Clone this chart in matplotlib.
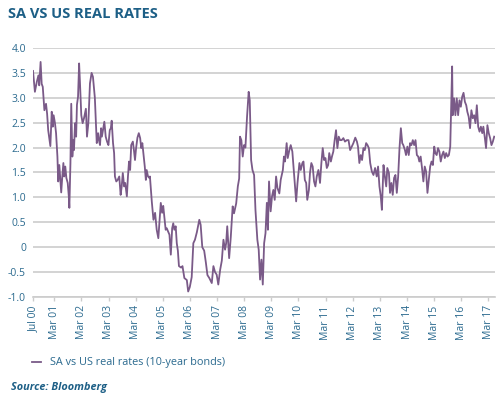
import matplotlib
matplotlib.use("Agg")
import matplotlib.pyplot as plt

# ── Data ────────────────────────────────────────────────────────────────────
# time as decimal years, real-rate spread in %
years = [
    2000.38, 2000.45, 2000.52, 2000.58, 2000.61, 2000.66, 2000.70, 2000.74, 2000.80, 2000.86,
    2000.90, 2000.94, 2001.02, 2001.07, 2001.11, 2001.14, 2001.19, 2001.23, 2001.28, 2001.31,
    2001.35, 2001.39, 2001.42, 2001.46, 2001.50, 2001.53, 2001.57, 2001.61, 2001.66, 2001.70,
    2001.72, 2001.76, 2001.79, 2001.83, 2001.87, 2001.89, 2001.93, 2001.97, 2002.00, 2002.04,
    2002.08, 2002.11, 2002.16, 2002.21, 2002.26, 2002.33, 2002.37, 2002.42, 2002.48, 2002.54,
    2002.59, 2002.66, 2002.69, 2002.73, 2002.78, 2002.81, 2002.85, 2002.89, 2002.92, 2002.97,
    2003.01, 2003.06, 2003.11, 2003.16, 2003.21, 2003.25, 2003.28, 2003.33, 2003.37, 2003.40,
    2003.45, 2003.50, 2003.56, 2003.61, 2003.65, 2003.69, 2003.74, 2003.78, 2003.84, 2003.88,
    2003.92, 2003.96, 2004.00, 2004.06, 2004.10, 2004.14, 2004.18, 2004.23, 2004.28, 2004.33,
    2004.37, 2004.41, 2004.45, 2004.50, 2004.54, 2004.57, 2004.62, 2004.67, 2004.69, 2004.76,
    2004.82, 2004.88, 2004.94, 2005.00, 2005.09, 2005.14, 2005.18, 2005.27, 2005.31, 2005.41,
    2005.46, 2005.51, 2005.55, 2005.59, 2005.64, 2005.68, 2005.72, 2005.76, 2005.84, 2005.89,
    2005.96, 2006.05, 2006.10, 2006.16, 2006.23, 2006.29, 2006.35, 2006.42, 2006.51, 2006.56,
    2006.62, 2006.69, 2006.75, 2006.81, 2006.88, 2006.97, 2007.03, 2007.09, 2007.15, 2007.21,
    2007.28, 2007.34, 2007.40, 2007.46, 2007.50, 2007.54, 2007.61, 2007.67, 2007.74, 2007.79,
    2007.87, 2007.93, 2007.98, 2008.01, 2008.06, 2008.11, 2008.16, 2008.21, 2008.27, 2008.33,
    2008.37, 2008.42, 2008.47, 2008.53, 2008.58, 2008.65, 2008.70, 2008.75, 2008.80, 2008.85,
    2008.90, 2008.95, 2009.00, 2009.04, 2009.08, 2009.14, 2009.19, 2009.24, 2009.29, 2009.34,
    2009.39, 2009.46, 2009.51, 2009.59, 2009.63, 2009.67, 2009.73, 2009.77, 2009.83, 2009.88,
    2009.94, 2010.00, 2010.08, 2010.13, 2010.20, 2010.25, 2010.31, 2010.35, 2010.40, 2010.45,
    2010.49, 2010.55, 2010.59, 2010.64, 2010.69, 2010.74, 2010.79, 2010.84, 2010.90, 2010.96,
    2011.01, 2011.06, 2011.11, 2011.16, 2011.21, 2011.26, 2011.30, 2011.36, 2011.40, 2011.45,
    2011.50, 2011.55, 2011.60, 2011.65, 2011.70, 2011.76, 2011.82, 2011.88, 2011.95, 2012.01,
    2012.07, 2012.13, 2012.19, 2012.26, 2012.32, 2012.36, 2012.41, 2012.46, 2012.51, 2012.56,
    2012.61, 2012.66, 2012.71, 2012.76, 2012.81, 2012.87, 2012.93, 2012.99, 2013.05, 2013.10,
    2013.15, 2013.20, 2013.24, 2013.30, 2013.35, 2013.40, 2013.44, 2013.50, 2013.54, 2013.59,
    2013.64, 2013.69, 2013.74, 2013.79, 2013.84, 2013.89, 2013.94, 2013.99, 2014.03, 2014.09,
    2014.13, 2014.18, 2014.23, 2014.28, 2014.33, 2014.38, 2014.43, 2014.48, 2014.53, 2014.58,
    2014.62, 2014.67, 2014.72, 2014.77, 2014.82, 2014.87, 2014.92, 2014.97, 2015.02, 2015.07,
    2015.12, 2015.17, 2015.21, 2015.26, 2015.31, 2015.36, 2015.41, 2015.46, 2015.51, 2015.56,
    2015.61, 2015.66, 2015.71, 2015.76, 2015.79, 2015.83, 2015.85, 2015.90, 2015.95, 2016.00,
    2016.05, 2016.10, 2016.15, 2016.20, 2016.25, 2016.30, 2016.35, 2016.39, 2016.44, 2016.49,
    2016.54, 2016.59, 2016.64, 2016.69, 2016.74, 2016.79, 2016.84, 2016.89, 2016.94, 2016.98,
    2017.03, 2017.08, 2017.13, 2017.18, 2017.23, 2017.28, 2017.33, 2017.38,
]
real_rate_gap = [
    3.54, 3.12, 3.32, 3.45, 3.25, 3.72, 3.28, 3.22, 2.75, 2.88,
    2.68, 2.35, 2.03, 2.72, 2.42, 2.65, 2.49, 2.29, 1.82, 1.32,
    1.65, 1.35, 1.10, 1.42, 1.69, 1.42, 1.62, 1.39, 1.29, 1.02,
    0.79, 1.69, 2.88, 1.82, 2.15, 1.95, 2.49, 2.22, 2.86, 3.02,
    3.69, 3.32, 2.65, 2.49, 2.59, 2.78, 2.22, 2.49, 3.29, 3.50,
    3.42, 3.00, 2.62, 2.09, 2.29, 2.15, 2.05, 2.39, 2.22, 2.39,
    2.52, 2.22, 2.12, 2.05, 2.35, 2.39, 2.54, 2.09, 1.89, 1.42,
    1.32, 1.35, 1.42, 1.05, 1.22, 1.49, 1.22, 1.29, 1.02, 1.42,
    1.72, 1.55, 2.05, 2.12, 1.95, 1.75, 1.99, 2.20, 2.29, 2.19,
    1.99, 2.09, 1.89, 1.62, 1.35, 1.55, 1.42, 1.39, 1.42, 0.91,
    0.55, 0.69, 0.35, 0.18, 0.89, 0.69, 0.83, 0.35, 0.38, 0.25,
    -0.15, 0.38, 0.48, 0.35, 0.42, 0.08, -0.07, -0.38, -0.41, -0.38,
    -0.62, -0.66, -0.89, -0.80, -0.60, 0.08, 0.15, 0.30, 0.55, 0.45,
    0.00, -0.07, -0.30, -0.56, -0.62, -0.72, -0.38, -0.50, -0.55, -0.75,
    -0.45, -0.27, 0.15, -0.05, 0.08, 0.42, -0.22, 0.20, 0.82, 0.68,
    0.88, 1.22, 1.38, 2.22, 2.15, 1.82, 2.05, 2.00, 2.62, 3.12,
    2.95, 1.75, 1.55, 1.45, 0.75, 0.15, -0.05, -0.65, -0.25, -0.75,
    0.08, 0.28, 0.89, 0.35, 1.32, 0.72, 1.02, 1.15, 0.95, 1.42,
    1.19, 1.08, 1.35, 1.55, 1.82, 1.72, 2.09, 1.79, 1.95, 2.05,
    1.92, 1.49, 0.92, 1.29, 1.69, 1.55, 1.69, 1.72, 1.35, 1.29,
    0.95, 1.15, 1.49, 1.69, 1.62, 1.32, 1.22, 1.42, 1.55, 1.29,
    1.69, 1.99, 1.75, 1.79, 1.59, 1.65, 1.89, 1.72, 1.82, 1.92,
    2.15, 2.35, 1.99, 2.22, 2.15, 2.15, 2.19, 2.12, 2.15, 2.15,
    1.95, 2.02, 2.09, 2.20, 2.12, 2.02, 1.69, 1.85, 1.75, 1.99,
    1.95, 2.09, 2.05, 1.99, 1.69, 1.52, 1.45, 1.59, 1.42, 1.62,
    1.22, 1.02, 0.75, 1.65, 1.42, 1.22, 1.59, 1.49, 1.09, 1.29,
    1.05, 1.39, 1.45, 1.09, 1.42, 1.99, 2.39, 2.09, 2.05, 1.95,
    1.85, 2.02, 1.85, 2.09, 2.05, 2.15, 2.05, 2.15, 1.85, 1.82,
    1.72, 1.82, 1.59, 1.32, 1.62, 1.52, 1.09, 1.35, 1.62, 1.72,
    1.65, 2.02, 1.89, 1.85, 1.99, 1.92, 1.72, 1.85, 1.92, 1.79,
    1.89, 1.82, 1.85, 2.02, 2.69, 3.63, 2.65, 2.99, 2.65, 2.99,
    2.65, 2.95, 2.82, 3.02, 3.10, 2.92, 2.85, 2.72, 2.62, 2.39,
    2.75, 2.59, 2.65, 2.49, 2.85, 2.42, 2.32, 2.42, 2.29, 2.42,
    2.22, 1.99, 2.45, 2.29, 2.19, 2.05, 2.12, 2.22,
]

tick_years = [2000.38] + [y + 2 / 12 for y in range(2001, 2018)]
tick_labels = ["Jul 00"] + [f"Mar {y % 100:02d}" for y in range(2001, 2018)]
y_ticks = [-1.0, -0.5, 0, 0.5, 1.0, 1.5, 2.0, 2.5, 3.0, 3.5, 4.0]
y_labels = ["-1.0", "-0.5", "0", "0.5", "1.0", "1.5", "2.0", "2.5", "3.0", "3.5", "4.0"]

series_label = "SA vs US real rates (10-year bonds)"

# ── Styling ─────────────────────────────────────────────────────────────────
TEXT = "#2b6a8f"
TITLE = "#1d5f86"
LINE = "#7a5a88"
GRID = "#cccccc"
plt.rcParams["font.family"] = ["Open Sans", "DejaVu Sans"]

fig = plt.figure(figsize=(5.0, 3.98), dpi=100)
ax = fig.add_axes([0.066, 0.2538, 0.924, 0.6256])

ax.plot(years, real_rate_gap, color=LINE, lw=1.3, label=series_label)

ax.set_xlim(years[0], 2017.41)
ax.set_ylim(-1.0, 4.0)
ax.set_yticks(y_ticks)
ax.set_yticklabels(y_labels)
ax.set_xticks(tick_years)
ax.set_xticklabels(tick_labels, rotation=90)

ax.grid(axis="y", color=GRID, lw=1.2)
ax.set_axisbelow(True)
for side in ["top", "right", "left"]:
    ax.spines[side].set_visible(False)
ax.spines["bottom"].set_color(GRID)
ax.spines["bottom"].set_linewidth(1.2)
ax.tick_params(axis="y", length=0, pad=5, labelsize=7.5, labelcolor=TEXT)
ax.tick_params(axis="x", length=3, width=1, color=GRID, pad=3, labelsize=7.5, labelcolor=TEXT)

fig.text(0.016, 0.965, "SA VS US REAL RATES", color=TITLE, fontsize=10.5,
         fontweight="bold", va="center", ha="left")

fig.legend(loc="center left", bbox_to_anchor=(0.045, 0.088), frameon=False,
           handlelength=0.8, handletextpad=0.8, fontsize=7.8, labelcolor=TEXT)

fig.text(0.022, 0.027, "Source: Bloomberg", color=TITLE, fontsize=7.8,
         fontweight="bold", style="italic", va="center", ha="left")

fig.savefig("out.png", dpi=100)
